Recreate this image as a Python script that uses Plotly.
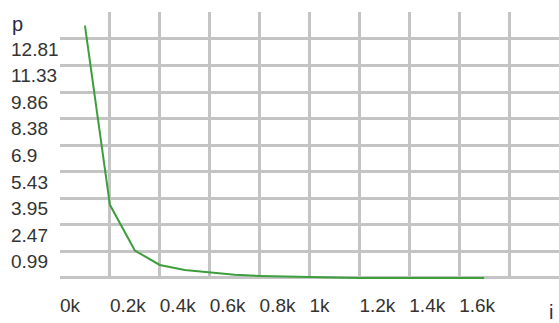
import plotly.graph_objects as go

# data
i_vals = [100, 200, 300, 400, 500, 600, 700, 800, 900, 1000, 1100, 1200, 1300, 1400, 1500, 1600, 1700]
p_vals = [15.0, 5.05, 2.51, 1.71, 1.43, 1.28, 1.16, 1.10, 1.06, 1.03, 1.01, 0.99, 0.99, 0.98, 0.98, 0.98, 0.98]

x_tickvals = [0, 200, 400, 600, 800, 1000, 1200, 1400, 1600, 1800, 2000]
x_ticktext = ["0k", "0.2k", "0.4k", "0.6k", "0.8k", "1k", "1.2k", "1.4k", "1.6k", "", ""]

y_step = 1.475
y_ticktext = ["0.99", "2.47", "3.95", "5.43", "6.9", "8.38", "9.86", "11.33", "12.81", "", ""]
y_tickvals = [0.99 + k * y_step for k in range(len(y_ticktext))]

W, H = 559, 323
left_px = 60
label_px = 7

fig = go.Figure()
fig.add_trace(go.Scatter(
    x=i_vals, y=p_vals, mode="lines",
    line=dict(color="#3c9e3c", width=2),
    hoverinfo="skip", showlegend=False,
))

tick_font = dict(family="Liberation Sans, Arial, sans-serif", size=19, color="#333333")
title_font = dict(family="Liberation Sans, Arial, sans-serif", size=20, color="#2a2a4a")

fig.update_layout(
    width=W, height=H,
    margin=dict(l=0, r=0, t=12, b=44),
    paper_bgcolor="white", plot_bgcolor="white",
    xaxis=dict(
        domain=[left_px / W, 1],
        range=[0, 2000],
        tickvals=x_tickvals, ticktext=x_ticktext,
        showgrid=True, gridcolor="#c4c4c4", gridwidth=2.5,
        zeroline=False, showline=False, ticks="",
        ticklabelposition="outside right",
        ticklabelstandoff=13,
        tickfont=tick_font,
    ),
    yaxis=dict(
        anchor="free", position=label_px / W,
        range=[0.93, 15.76],
        tickvals=y_tickvals, ticktext=y_ticktext,
        showgrid=True, gridcolor="#c4c4c4", gridwidth=2.5,
        zeroline=False, showline=False, ticks="",
        ticklabelposition="inside top",
        ticklabelshift=-3,
        tickfont=tick_font,
    ),
    annotations=[
        dict(text="p", xref="paper", yref="paper", x=10 / W, y=1, xanchor="left", yanchor="top",
             yshift=1, showarrow=False, font=title_font),
        dict(text="i", xref="paper", yref="paper", x=547 / W, y=0, xanchor="left", yanchor="top",
             yshift=-20, showarrow=False, font=title_font),
    ],
)

fig.write_html("out.html", config={"displayModeBar": False},
               post_script="document.body.style.margin='0';")
